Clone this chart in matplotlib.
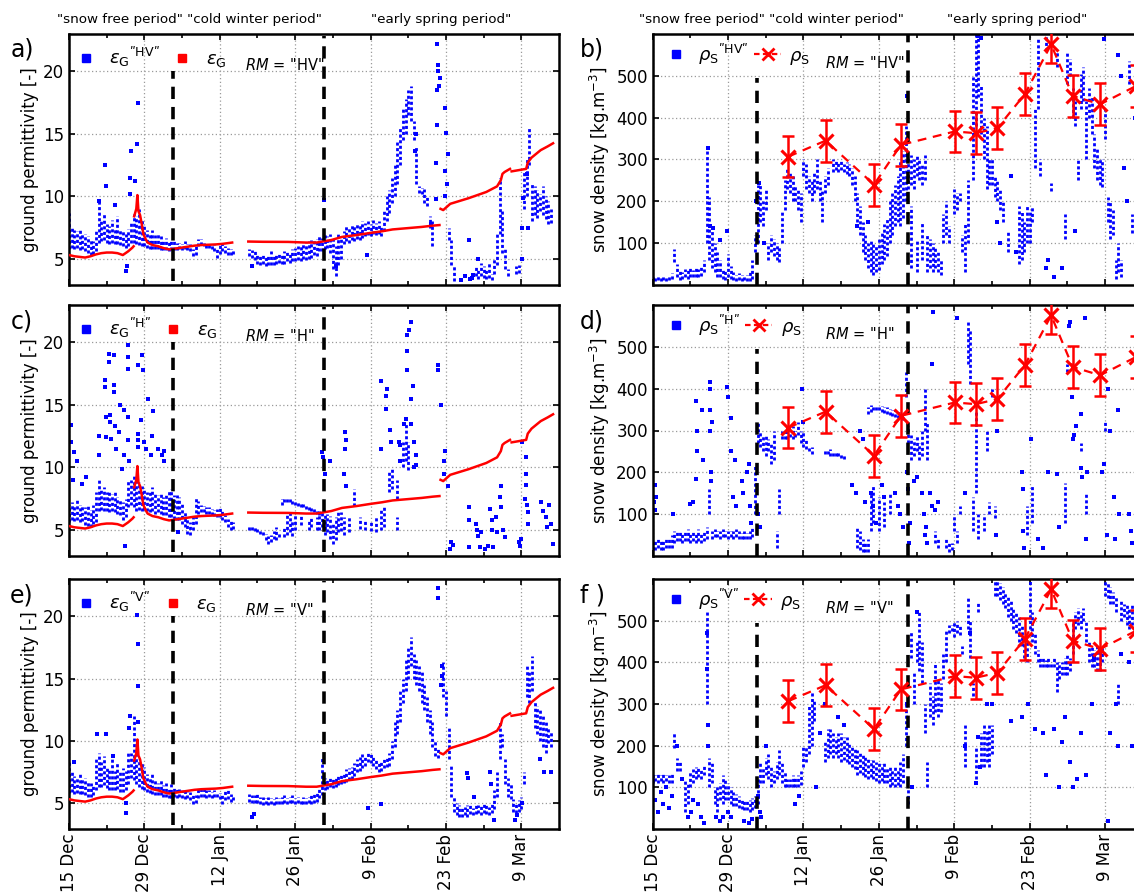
import numpy as np
import matplotlib
matplotlib.use('Agg')
import matplotlib.pyplot as plt
from matplotlib.lines import Line2D

plt.rcParams['font.family'] = ['DejaVu Sans']
plt.rcParams['mathtext.fontset'] = 'dejavusans'

# ---------------- axis categories ----------------
tick_days = [0, 14, 28, 42, 56, 70, 84]
tick_labels = ['15 Dec', '29 Dec', '12 Jan', '26 Jan', '9 Feb', '23 Feb', '9 Mar']
minor_days = [7, 21, 35, 49, 63, 77]
period_days = [19.3, 47.4]
period_titles = ['"snow free period" "cold winter period"', '"early spring period"']

# ---------------- modelled ground permittivity (red, same in a, c, e) ----------------
nan = np.nan
eg_day = [0, 1, 2, 3, 4, 5, 6, 7, 8, 9, 10, 11, 11.8, 12.0, nan, 12.1, 12.3, 12.5, 12.7, 12.9,
          13.2, 13.5, 13.8, 14.2, 14.6, 15.5, 16.6, 17.6, 18.6, 19.5, 21.0, 23.3, 24.6, 27.3, 28.6,
          30.3, nan, 33.3, 36.0, 40.7, 44.0, 46.0, 48.7, 50.7, 53.4, 56.1, 58.1, 60.1, 62.8, 65.5,
          67.5, 68.8, nan, 69.0, 69.5, 70.8, 74.2, 77.5, 79.5, 80.2, 80.5, 80.9, 81.9, nan, 82.2,
          84.9, 85.2, 85.9, 87.6, 88.9, 89.9]
eg_val = [5.3, 5.2, 5.15, 5.1, 5.2, 5.35, 5.45, 5.5, 5.5, 5.45, 5.3, 5.6, 5.9, 6.0, nan, 8.4, 8.7,
          9.0, 10.1, 8.8, 8.5, 7.8, 7.0, 6.6, 6.3, 6.1, 6.0, 5.85, 5.75, 5.8, 5.9, 6.05, 6.1, 6.15,
          6.2, 6.3, nan, 6.38, 6.36, 6.35, 6.3, 6.3, 6.5, 6.75, 6.9, 7.08, 7.2, 7.35, 7.45, 7.55,
          7.65, 7.7, nan, 9.0, 8.9, 9.4, 9.85, 10.35, 10.8, 11.3, 11.8, 11.95, 12.2, nan, 12.0,
          12.2, 12.7, 13.1, 13.7, 14.0, 14.25]

# ---------------- measured snow density (red crosses, same in b, d, f) ----------------
rho_day = [25.2, 32.1, 41.1, 46.1, 56.1, 60.0, 64.0, 69.1, 74.0, 78.0, 83.1, 89.8]
rho_val = [307, 345, 240, 335, 367, 363, 375, 456, 575, 452, 432, 476]
rho_err = [50, 50, 50, 50, 50, 50, 50, 50, 45, 50, 50, 50]

# ---------------- blue retrievals: streaks (day, low, high) and isolated points (day, value) ----
a_band = [(0.0, 5.8, 8.7), (0.5, 5.9, 7.6), (1.0, 5.8, 7.3), (1.5, 5.9, 7.2), (2.0, 5.7, 7.3),
          (2.5, 5.8, 7.0), (3.0, 5.6, 7.0), (3.5, 5.5, 6.8), (4.0, 5.3, 6.5), (4.5, 5.4, 6.4),
          (5.0, 5.6, 7.2), (5.5, 6.3, 9.6), (6.0, 6.4, 8.2), (6.5, 6.5, 8.6), (7.0, 6.3, 7.8),
          (7.5, 6.2, 7.6), (8.0, 6.3, 8.1), (8.5, 6.2, 7.5), (9.0, 6.2, 8.4), (9.5, 6.1, 7.4),
          (10.0, 6.0, 7.2), (10.5, 5.9, 7.0), (11.0, 6.0, 7.4), (11.5, 6.3, 8.0), (12.0, 6.3, 8.6),
          (12.5, 6.2, 8.4), (13.0, 6.1, 9.0), (13.5, 6.0, 8.2), (14.0, 6.0, 7.8), (14.5, 5.9, 7.3),
          (15.0, 5.8, 7.0), (15.5, 5.8, 7.3), (16.0, 5.8, 6.9), (16.5, 5.8, 7.1), (17.0, 5.7, 6.8),
          (17.5, 5.7, 6.6), (18.0, 5.7, 6.7), (18.5, 5.6, 6.5), (19.0, 5.7, 6.4), (19.5, 5.7, 6.4),
          (20.0, 5.7, 6.3), (20.5, 5.8, 6.3), (21.0, 5.7, 6.2), (21.5, 5.8, 6.4), (22.0, 5.7, 6.2),
          (22.5, 5.6, 6.2), (23.0, 5.2, 5.8), (23.5, 5.3, 6.1), (24.0, 6.0, 6.6), (24.5, 6.1, 6.6),
          (25.0, 6.0, 6.4), (25.5, 5.9, 6.3), (26.0, 5.9, 6.3), (26.5, 5.8, 6.2), (27.0, 5.6, 6.1),
          (27.5, 5.1, 5.8), (28.0, 5.4, 6.1), (28.5, 5.6, 6.2), (29.0, 5.5, 6.0), (29.5, 5.3, 5.9),
          (30.0, 5.3, 5.8), (30.5, 5.4, 5.7),
          (33.5, 5.2, 5.8), (34.0, 5.1, 5.7), (34.5, 4.9, 5.6), (35.0, 4.6, 5.5), (35.5, 4.5, 5.4),
          (36.0, 4.6, 5.5), (36.5, 4.4, 5.3), (37.0, 4.5, 5.4), (37.5, 4.5, 5.6), (38.0, 4.5, 5.3),
          (38.5, 4.6, 5.4), (39.0, 4.7, 5.5), (39.5, 4.6, 5.3), (40.0, 4.6, 5.6), (40.5, 4.8, 5.7),
          (41.0, 4.7, 5.5), (41.5, 4.8, 5.8), (42.0, 4.8, 5.9), (42.5, 4.9, 6.0), (43.0, 4.8, 6.1),
          (43.5, 5.0, 6.2), (44.0, 4.9, 6.3), (44.5, 5.0, 6.4), (45.0, 5.1, 6.5), (45.5, 5.3, 6.6),
          (46.0, 5.2, 6.6), (46.5, 5.6, 6.8), (47.0, 5.6, 6.7), (47.5, 5.8, 6.9), (48.0, 5.9, 6.8),
          (48.5, 5.5, 7.0), (49.0, 4.2, 6.6), (49.5, 3.6, 6.0), (50.0, 4.5, 7.1), (50.5, 5.0, 6.8),
          (51.0, 6.2, 7.2), (51.5, 6.4, 7.6), (52.0, 6.3, 7.5), (52.5, 6.5, 7.8), (53.0, 6.4, 7.6),
          (53.5, 6.6, 7.9), (54.0, 6.5, 7.7), (54.5, 6.7, 8.0), (55.0, 6.8, 7.9), (55.5, 6.9, 8.0),
          (56.0, 6.8, 7.8), (56.5, 7.0, 8.1), (57.0, 6.9, 7.9), (57.5, 7.0, 8.0), (58.0, 6.8, 7.7),
          (58.5, 7.2, 8.8), (59.0, 8.0, 10.0), (59.5, 8.7, 10.5), (60.0, 9.5, 11.5), (60.5, 10.0, 12.5),
          (61.0, 11.0, 14.5), (61.5, 12.5, 15.5), (62.0, 14.5, 17.0), (62.5, 15.0, 17.8),
          (63.0, 16.5, 18.5), (63.5, 16.0, 18.8), (64.0, 14.5, 16.0), (64.5, 11.0, 14.0),
          (65.0, 10.3, 10.8), (65.5, 10.2, 10.7), (66.0, 9.5, 10.6), (66.5, 9.2, 10.0),
          (67.0, 7.5, 8.4), (67.5, 6.0, 8.0),
          (70.5, 6.5, 7.5), (71.0, 4.5, 6.5), (71.5, 3.2, 4.5),
          (75.5, 3.6, 4.5), (76.0, 3.4, 4.2), (76.5, 3.6, 4.7), (77.0, 3.5, 4.4), (77.5, 3.4, 4.1),
          (78.0, 3.5, 4.7), (78.5, 3.3, 3.8), (79.0, 3.8, 5.0), (79.5, 4.5, 7.0), (80.0, 7.0, 11.5),
          (80.5, 5.5, 9.0), (81.0, 4.2, 5.8), (81.5, 3.6, 4.2), (83.0, 3.8, 4.4), (83.5, 3.9, 4.5),
          (84.5, 9.0, 12.0), (85.0, 10.0, 13.0), (85.5, 12.5, 15.5), (86.0, 8.0, 11.0),
          (86.5, 8.5, 10.8), (87.0, 8.3, 10.5), (87.5, 8.8, 10.2), (88.0, 8.5, 10.8),
          (88.5, 8.2, 10.0), (89.0, 7.8, 9.6), (89.5, 7.9, 9.0)]
a_pts = [(6.6, 12.5), (6.8, 10.8), (5.5, 9.6), (8.6, 9.3), (10.6, 4.0), (10.7, 4.4), (11.3, 11.5),
         (11.4, 10.2), (11.6, 13.6), (12.6, 14.2), (12.8, 17.5), (12.2, 11.2), (34.0, 4.4),
         (47.4, 9.7), (49.5, 4.4), (55.4, 5.3), (64.2, 13.6), (64.5, 15.0), (68.1, 9.8), (68.2, 12.7),
         (68.3, 15.7), (68.4, 18.5), (68.5, 20.0), (68.3, 22.2), (68.6, 20.5), (68.9, 19.5),
         (68.8, 18.8), (69.8, 17.1), (70.0, 15.1), (70.3, 13.4), (69.9, 12.0), (70.2, 11.0),
         (69.9, 10.0), (67.3, 7.8), (74.2, 6.5), (74.5, 3.4), (75.0, 3.7), (74.8, 3.5), (76.0, 5.0),
         (84.2, 5.0), (84.1, 7.5), (84.3, 9.9), (85.3, 7.5), (85.0, 11.8), (73.5, 3.6), (72.8, 3.3)]

c_band = [(0.0, 5.6, 7.0), (0.5, 5.8, 7.2), (1.0, 5.7, 6.9), (1.5, 5.8, 7.4), (2.0, 5.6, 7.0),
          (2.5, 5.7, 7.0), (3.0, 5.4, 6.8), (3.5, 5.3, 7.0), (4.0, 5.2, 6.6), (4.5, 5.5, 7.0),
          (5.0, 5.6, 8.0), (5.5, 6.5, 9.0), (6.0, 6.6, 8.2), (6.5, 6.5, 8.4), (7.0, 6.5, 8.0),
          (7.5, 6.4, 8.2), (8.0, 6.5, 7.9), (8.5, 6.4, 8.0), (9.0, 6.3, 7.6), (9.5, 6.2, 7.5),
          (10.0, 5.8, 7.2), (10.5, 6.0, 7.5), (11.0, 6.8, 9.0), (11.5, 7.0, 9.0), (12.0, 6.8, 9.5),
          (12.5, 6.5, 9.0), (13.0, 6.6, 8.8), (13.5, 6.5, 8.5), (14.0, 6.6, 8.2), (14.5, 6.5, 8.0),
          (15.0, 6.4, 8.0), (15.5, 6.5, 8.4), (16.0, 6.3, 8.0), (16.5, 6.4, 7.8), (17.0, 6.3, 8.0),
          (17.5, 6.2, 7.6), (18.0, 6.2, 7.8), (18.5, 6.0, 8.2), (19.0, 6.0, 8.3), (19.5, 5.9, 7.8),
          (20.0, 5.8, 7.8), (20.5, 5.8, 7.6), (21.0, 5.5, 7.2), (21.5, 5.2, 6.4), (22.0, 4.7, 5.9),
          (22.5, 4.6, 5.6), (23.0, 5.0, 6.2), (23.5, 5.5, 7.6), (24.0, 6.3, 7.3), (24.5, 6.4, 7.0),
          (25.0, 6.4, 6.9), (25.5, 6.3, 6.8), (26.0, 6.3, 6.8), (26.5, 6.2, 6.7), (27.0, 6.1, 6.6),
          (27.5, 6.0, 6.7), (28.0, 6.0, 6.8), (28.5, 5.8, 6.5), (29.0, 5.6, 6.2), (29.5, 5.2, 5.9),
          (30.0, 5.0, 5.8), (30.5, 5.1, 5.6),
          (33.5, 5.0, 5.4), (34.0, 5.0, 5.3), (34.5, 4.9, 5.3), (35.0, 4.8, 5.1), (35.5, 4.7, 5.0),
          (36.0, 4.6, 4.9), (36.5, 4.2, 4.7), (37.0, 3.9, 4.5), (37.5, 4.0, 4.6), (38.0, 4.3, 4.9),
          (38.5, 4.2, 5.2), (39.0, 4.4, 4.8),
          (39.5, 7.0, 7.5), (40.0, 7.2, 7.6), (40.5, 7.2, 7.6), (41.0, 7.2, 7.5), (41.5, 7.1, 7.5),
          (42.0, 7.0, 7.4), (42.5, 6.9, 7.3), (43.0, 6.8, 7.2), (43.5, 6.8, 7.1), (44.0, 6.7, 7.0),
          (44.5, 6.6, 6.9), (45.0, 6.5, 6.8), (45.5, 6.4, 6.8), (46.0, 6.3, 6.7), (46.5, 6.2, 6.6),
          (40.0, 4.4, 5.2), (40.5, 4.6, 6.2), (41.0, 4.8, 6.5), (41.5, 4.5, 5.8), (42.0, 5.0, 6.2),
          (43.0, 5.4, 6.3), (44.5, 5.0, 5.9), (45.0, 5.2, 6.0), (46.0, 5.0, 6.0),
          (46.5, 5.0, 6.5), (47.0, 5.2, 6.4), (47.5, 4.6, 6.2), (48.0, 4.8, 6.3), (48.5, 4.3, 6.1),
          (49.0, 3.9, 5.6), (49.5, 4.2, 6.0), (50.0, 4.8, 6.5), (50.5, 4.9, 6.4), (51.0, 4.6, 6.0),
          (52.0, 4.8, 6.0), (53.0, 6.9, 8.3), (54.0, 5.1, 6.0), (55.0, 5.0, 5.9), (56.0, 4.9, 5.8),
          (57.0, 4.8, 6.0), (58.0, 5.0, 6.6), (58.5, 5.2, 6.8), (59.5, 8.0, 9.8), (60.0, 8.3, 10.0),
          (61.0, 7.5, 9.0), (61.0, 5.0, 6.0), (62.0, 10.0, 12.0), (62.5, 10.5, 13.5),
          (63.0, 9.8, 12.0)]
c_pts = [(0.3, 13.4), (0.3, 12.0), (1.5, 10.5), (1.0, 11.2), (0.8, 9.0), (2.5, 8.7), (3.2, 9.2),
         (5.5, 12.5), (5.6, 11.0), (6.6, 16.4), (6.6, 17.0), (6.8, 14.0), (6.9, 12.4), (7.5, 19.1),
         (7.5, 18.4), (7.6, 14.2), (7.6, 13.6), (7.8, 12.3), (8.3, 19.0), (8.4, 16.6), (8.4, 16.0),
         (8.5, 13.3), (8.7, 11.5), (9.5, 15.0), (9.2, 12.8), (9.9, 9.9), (10.4, 3.7), (10.2, 14.6),
         (10.3, 11.0), (11.0, 19.8), (11.0, 18.8), (10.9, 17.9), (11.0, 14.0), (11.0, 12.2),
         (11.1, 10.5), (12.9, 18.2), (12.9, 12.7), (12.9, 12.2), (12.8, 11.6), (13.6, 19.0),
         (13.7, 17.8), (13.4, 13.8), (14.0, 12.0), (14.3, 11.5), (14.6, 15.5), (15.6, 14.5),
         (15.4, 12.5), (15.2, 11.0), (16.6, 11.5), (17.2, 11.0), (17.6, 10.5), (17.6, 11.3),
         (20.3, 4.8), (47.2, 10.8), (47.0, 11.2), (47.5, 9.5), (48.4, 10.5), (51.3, 12.8),
         (51.4, 12.2), (51.2, 11.5), (51.0, 9.5), (51.5, 8.5), (57.9, 11.5), (58.0, 16.9),
         (59.0, 16.3), (58.9, 15.7), (58.9, 14.7), (59.8, 12.0), (59.6, 13.0), (61.2, 12.0),
         (61.4, 10.5), (61.4, 11.8), (62.8, 20.6), (63.1, 21.0), (62.8, 19.3), (62.8, 17.8),
         (62.2, 13.5), (62.5, 13.9), (63.5, 21.6), (63.8, 16.5), (63.5, 15.5), (63.6, 13.5),
         (64.0, 12.0), (64.1, 10.0), (64.5, 11.0), (64.5, 10.2), (68.5, 18.2), (68.6, 17.8),
         (69.0, 15.0), (69.7, 10.5), (69.8, 11.3), (69.6, 9.5), (70.3, 8.5), (70.8, 3.5),
         (71.0, 4.0), (71.3, 3.8), (74.2, 6.8), (74.3, 5.8), (74.2, 3.6), (75.5, 5.5), (75.8, 5.0),
         (76.0, 4.5), (76.5, 4.8), (76.3, 3.6), (77.2, 3.5), (77.8, 3.7), (78.2, 6.7), (78.5, 5.8),
         (78.5, 5.0), (78.8, 3.6), (79.5, 4.8), (79.3, 6.0), (80.2, 8.5), (80.1, 7.6), (80.3, 6.8),
         (80.6, 5.0), (81.0, 4.4), (83.5, 4.0), (83.8, 3.7), (84.0, 4.3), (84.9, 10.8), (84.2, 12.0),
         (84.9, 9.5), (84.9, 8.6), (84.6, 7.5), (85.0, 7.0), (85.2, 6.4), (85.3, 5.5), (87.7, 7.2),
         (88.0, 6.5), (88.5, 6.0), (88.7, 5.2), (89.2, 7.0), (89.5, 5.5), (89.8, 3.9)]

e_band = [(0.0, 5.8, 8.3), (0.5, 5.9, 7.5), (1.0, 5.7, 7.2), (1.5, 5.8, 7.0), (2.0, 5.7, 7.3),
          (2.5, 5.7, 6.9), (3.0, 5.6, 7.0), (3.5, 5.5, 6.7), (4.0, 5.5, 6.6), (4.5, 5.6, 6.5),
          (5.0, 6.0, 8.5), (5.5, 6.3, 9.0), (6.0, 6.3, 8.3), (6.5, 6.4, 8.8), (7.0, 6.2, 8.0),
          (7.5, 6.0, 7.8), (8.0, 6.0, 8.8), (8.5, 6.0, 7.6), (9.0, 6.1, 8.3), (9.5, 5.9, 7.5),
          (10.0, 5.9, 7.8), (10.5, 6.0, 7.6), (11.0, 6.5, 9.0), (11.5, 7.0, 9.0), (12.0, 6.8, 12.0),
          (12.5, 6.5, 9.0), (13.0, 6.3, 8.5), (13.5, 6.1, 8.2), (14.0, 6.0, 7.9), (14.5, 5.9, 7.3),
          (15.0, 5.8, 7.0), (15.5, 5.7, 7.3), (16.0, 5.6, 6.8), (16.5, 5.6, 6.6), (17.0, 5.6, 6.9),
          (17.5, 5.5, 6.4), (18.0, 5.5, 6.6), (18.5, 5.4, 6.3), (19.0, 5.4, 6.5), (19.5, 5.5, 6.2),
          (20.0, 5.4, 6.3), (20.5, 5.5, 6.1), (21.0, 5.4, 6.0), (21.5, 5.3, 6.0), (22.0, 5.4, 5.9),
          (22.5, 5.2, 5.9), (23.0, 4.9, 5.6), (23.5, 5.0, 5.6), (24.0, 5.4, 6.1), (24.5, 5.5, 6.2),
          (25.0, 5.5, 6.1), (25.5, 5.4, 6.0), (26.0, 5.5, 6.0), (26.5, 5.4, 5.9), (27.0, 5.5, 6.0),
          (27.5, 5.5, 5.9), (28.0, 5.3, 5.8), (28.5, 4.9, 5.6), (29.0, 5.2, 6.0), (29.5, 5.3, 6.1),
          (30.0, 5.1, 5.7), (30.5, 5.2, 5.6),
          (33.5, 5.1, 5.7), (34.0, 5.0, 5.6), (34.5, 5.0, 5.6), (35.0, 5.0, 5.7), (35.5, 4.9, 5.5),
          (36.0, 4.8, 5.5), (36.5, 4.9, 5.4), (37.0, 4.8, 5.5), (37.5, 4.9, 5.4), (38.0, 4.8, 5.3),
          (38.5, 4.9, 5.5), (39.0, 4.9, 5.4), (39.5, 4.9, 5.5), (40.0, 5.0, 5.6), (40.5, 4.9, 5.4),
          (41.0, 5.0, 5.5), (41.5, 5.0, 5.6), (42.0, 4.9, 5.4), (42.5, 5.0, 5.5), (43.0, 4.9, 5.3),
          (43.5, 4.9, 5.5), (44.0, 4.9, 5.4), (44.5, 5.0, 5.5), (45.0, 4.9, 5.6), (45.5, 5.0, 5.7),
          (46.0, 5.1, 5.8), (46.5, 5.4, 6.3), (47.0, 5.6, 8.6), (47.5, 6.0, 7.0), (48.0, 6.1, 6.9),
          (48.5, 6.3, 7.0), (49.0, 6.2, 7.1), (49.5, 6.3, 7.2), (50.0, 6.4, 7.3), (50.5, 6.5, 7.4),
          (51.0, 6.6, 7.5), (51.5, 6.7, 7.7), (52.0, 6.8, 7.8), (52.5, 6.9, 7.9), (53.0, 7.2, 8.2),
          (53.5, 7.5, 8.5), (54.0, 7.6, 8.7), (54.5, 7.8, 8.9), (55.0, 8.0, 8.8), (55.5, 8.3, 9.0),
          (56.0, 8.2, 8.9), (56.5, 8.0, 8.8), (57.0, 7.7, 8.5), (57.5, 7.5, 8.3), (58.0, 7.6, 8.4),
          (58.5, 7.8, 8.6), (59.0, 7.9, 8.8), (59.5, 8.0, 9.0), (60.0, 8.5, 10.0), (60.5, 9.5, 11.5),
          (61.0, 10.5, 12.5), (61.5, 11.5, 14.0), (62.0, 13.0, 15.0), (62.5, 14.0, 16.5),
          (63.0, 15.0, 17.5), (63.5, 16.0, 18.3), (64.0, 15.0, 17.0), (64.5, 14.5, 16.5),
          (65.0, 14.0, 16.0), (65.5, 13.0, 15.5), (66.0, 12.5, 14.5), (66.5, 11.5, 13.5),
          (67.0, 10.5, 12.5), (67.5, 9.5, 11.5), (68.0, 8.8, 10.0), (68.5, 8.6, 9.5),
          (69.5, 13.5, 16.3), (70.0, 12.0, 14.0), (70.5, 8.5, 11.0), (71.0, 5.5, 8.0),
          (71.5, 4.3, 5.5), (72.0, 4.0, 5.0), (72.5, 3.9, 4.8), (73.0, 3.9, 4.6), (73.5, 4.0, 4.7),
          (74.0, 3.9, 4.8), (74.5, 4.1, 4.9), (75.0, 4.0, 4.6), (75.5, 4.1, 4.9), (76.0, 4.2, 4.8),
          (76.5, 4.0, 4.9), (77.0, 4.2, 5.0), (77.5, 4.1, 4.8), (78.0, 4.0, 4.7), (78.5, 4.2, 5.0),
          (79.0, 4.5, 6.0), (79.5, 5.5, 7.5), (80.0, 8.5, 11.5), (80.5, 9.5, 10.5), (81.0, 6.5, 8.5),
          (81.5, 5.5, 7.0), (82.0, 5.3, 6.5), (82.5, 4.3, 5.3), (83.0, 4.2, 5.0), (83.5, 4.3, 5.2),
          (84.0, 4.5, 5.5), (84.5, 6.5, 7.5), (85.0, 13.5, 16.0), (85.5, 13.0, 15.5),
          (86.0, 14.0, 16.8), (86.5, 11.0, 13.2), (87.0, 10.5, 12.8), (87.5, 10.0, 12.5),
          (88.0, 9.5, 12.0), (88.5, 9.0, 11.5), (89.0, 9.8, 11.0), (89.5, 9.5, 10.8)]
e_pts = [(1.0, 8.3), (5.2, 10.5), (6.8, 10.5), (8.2, 8.8), (10.5, 4.2), (10.6, 5.0), (11.3, 12.0),
         (11.2, 11.0), (12.9, 17.8), (12.9, 14.4), (12.9, 11.5), (12.6, 20.1), (34.0, 3.9),
         (34.3, 4.1), (55.5, 4.6), (57.9, 4.9), (68.5, 22.3), (68.6, 21.5), (69.2, 16.0),
         (69.3, 15.2), (69.0, 14.5), (74.0, 7.4), (74.1, 7.0), (75.3, 5.5), (78.2, 7.5), (78.3, 6.5),
         (79.0, 3.6), (82.8, 3.6), (83.2, 4.0), (84.2, 5.0), (87.5, 8.5), (88.3, 7.5), (89.5, 7.5)]

b_band = [(0.0, 12, 24), (0.5, 10, 22), (1.0, 12, 25), (1.5, 10, 20), (2.0, 12, 24), (2.5, 10, 22),
          (3.0, 12, 25), (3.5, 14, 28), (4.0, 55, 85), (4.5, 20, 50), (5.0, 12, 35), (5.5, 15, 30),
          (6.0, 18, 38), (6.5, 15, 35), (7.0, 20, 40), (7.5, 18, 35), (8.0, 20, 42), (8.5, 18, 38),
          (9.0, 22, 45), (9.5, 30, 60), (10.0, 100, 330), (10.5, 60, 210), (11.0, 40, 140),
          (11.5, 30, 100), (12.0, 20, 80), (12.5, 20, 60), (13.0, 15, 40), (13.5, 12, 35),
          (14.0, 20, 75), (14.5, 15, 45), (15.0, 12, 30), (15.5, 10, 25), (16.0, 12, 28),
          (16.5, 10, 25), (17.0, 12, 22), (17.5, 10, 25), (18.0, 10, 35), (18.5, 15, 60),
          (19.0, 80, 120), (19.5, 100, 240), (20.0, 150, 240), (20.5, 140, 200), (21.0, 180, 230),
          (21.5, 60, 100), (22.0, 80, 120), (22.5, 70, 110), (23.0, 60, 100), (23.5, 55, 90),
          (24.0, 100, 180), (24.5, 180, 250), (25.0, 230, 280), (25.5, 220, 270), (26.0, 200, 260),
          (26.5, 200, 240), (27.0, 180, 230), (27.5, 150, 220), (28.0, 260, 300), (28.5, 230, 290),
          (29.0, 220, 260), (29.5, 200, 250), (30.0, 220, 270), (30.5, 230, 300), (31.0, 200, 250),
          (31.5, 150, 230), (32.0, 220, 260), (32.5, 240, 280), (33.5, 270, 300), (34.0, 275, 300),
          (34.5, 270, 295), (35.0, 275, 300), (35.5, 270, 290), (36.0, 265, 295), (36.5, 260, 290),
          (37.0, 240, 280), (37.5, 200, 260), (38.0, 150, 220), (38.5, 120, 190), (39.0, 80, 150),
          (39.5, 60, 120), (40.0, 40, 100), (40.5, 30, 110), (41.0, 25, 100), (41.5, 30, 95),
          (42.0, 35, 110), (42.5, 50, 130), (43.0, 60, 145), (43.5, 70, 160), (44.0, 100, 200),
          (44.5, 120, 220), (45.0, 140, 240), (45.5, 150, 260), (46.0, 140, 300), (46.5, 160, 320),
          (47.0, 200, 380), (47.5, 230, 300), (48.0, 240, 310), (48.5, 230, 300), (49.0, 260, 310),
          (49.5, 250, 300), (50.0, 240, 290), (50.5, 250, 310),
          (48.0, 40, 190), (49.0, 30, 110), (50.0, 60, 150), (51.0, 30, 120), (51.5, 40, 110),
          (52.0, 30, 100), (52.5, 40, 90), (53.0, 30, 80), (53.5, 25, 60), (54.0, 100, 170),
          (54.5, 120, 200), (55.0, 100, 140), (56.0, 170, 230), (56.5, 180, 220), (57.0, 200, 220),
          (57.5, 80, 120), (58.0, 30, 150), (58.5, 100, 250), (59.5, 250, 500), (60.0, 380, 600),
          (60.5, 450, 600), (61.0, 360, 480), (61.5, 300, 400), (62.0, 230, 380), (62.5, 240, 300),
          (63.0, 240, 300), (63.5, 210, 260), (64.0, 200, 250), (64.5, 180, 230), (65.0, 150, 200),
          (66.0, 80, 130), (68.0, 50, 190), (68.5, 60, 180), (69.0, 80, 150), (69.5, 100, 190),
          (70.0, 100, 180), (70.5, 150, 190), (71.0, 280, 420), (71.5, 420, 590), (72.0, 260, 300),
          (73.0, 560, 600), (74.0, 225, 245), (75.0, 520, 560), (76.5, 110, 170), (77.0, 480, 560),
          (77.5, 500, 540), (78.0, 400, 470), (78.5, 380, 440), (79.0, 250, 300), (79.5, 420, 505),
          (80.0, 440, 520), (80.5, 300, 440), (81.0, 400, 470), (81.5, 360, 450), (82.0, 280, 360),
          (82.5, 250, 330), (83.0, 240, 300), (83.5, 235, 300), (84.0, 350, 420), (84.5, 150, 210),
          (85.0, 110, 200), (85.5, 120, 180), (86.0, 15, 60), (86.5, 30, 100), (87.0, 20, 60),
          (88.5, 480, 535), (89.0, 125, 170)]
b_pts = [(10.2, 327), (10.6, 140), (11.2, 136), (12.5, 108), (13.8, 130), (19.2, 200), (19.8, 243),
         (20.6, 100), (38.0, 140), (40.0, 150), (47.2, 452), (60.5, 595), (61.0, 590), (64.0, 150),
         (64.5, 100), (66.5, 260), (67.5, 80), (73.0, 40), (73.5, 60), (74.5, 20), (76.0, 40),
         (78.5, 130), (83.8, 588), (86.5, 550), (87.0, 500), (87.5, 280), (88.0, 200), (89.5, 400)]

d_band = [(0.0, 15, 40), (0.5, 15, 35), (1.0, 18, 40), (1.5, 15, 38), (2.0, 15, 35), (2.5, 18, 40),
          (3.0, 20, 45), (3.5, 20, 50), (4.0, 30, 60), (4.5, 35, 60), (5.0, 35, 60), (5.5, 30, 55),
          (6.0, 35, 60), (6.5, 35, 65), (7.0, 30, 55), (7.5, 35, 60), (8.0, 30, 55), (8.5, 35, 65),
          (9.0, 30, 55), (9.5, 35, 60), (10.0, 40, 70), (10.5, 100, 160), (11.0, 40, 60),
          (11.5, 45, 65), (12.0, 45, 60), (12.5, 40, 60), (13.0, 45, 65), (13.5, 45, 60),
          (14.0, 40, 60), (14.5, 45, 60), (15.0, 40, 60), (15.5, 45, 65), (16.0, 40, 60),
          (16.5, 40, 55), (17.0, 40, 60), (17.5, 40, 55), (18.0, 40, 60), (18.5, 45, 70),
          (19.0, 100, 220), (19.5, 270, 320), (20.0, 260, 300), (20.5, 250, 290), (21.0, 240, 290),
          (21.5, 250, 280), (22.0, 220, 270), (22.5, 230, 300), (23.0, 20, 60), (23.5, 100, 160),
          (24.0, 280, 300), (24.5, 280, 300), (25.0, 280, 300), (25.5, 285, 300), (26.0, 280, 310),
          (26.5, 285, 300), (27.0, 290, 320), (27.5, 270, 300), (28.0, 260, 300), (28.5, 255, 280),
          (29.0, 250, 260), (29.5, 245, 260), (32.0, 245, 255), (32.5, 245, 255), (33.0, 240, 255),
          (33.5, 240, 252), (34.0, 240, 250), (34.5, 238, 250), (35.0, 235, 245), (35.5, 232, 242),
          (38.0, 20, 70), (38.5, 15, 60), (39.0, 10, 40), (39.5, 10, 30), (40.0, 340, 355),
          (40.5, 345, 360), (41.0, 348, 360), (41.5, 350, 360), (42.0, 348, 358), (42.5, 345, 358),
          (43.0, 342, 356), (43.5, 340, 355), (44.0, 338, 352), (44.5, 335, 350), (45.0, 332, 348),
          (45.5, 330, 345), (46.0, 330, 345), (46.5, 325, 340), (47.0, 380, 440), (47.5, 270, 310),
          (48.0, 230, 290), (48.5, 240, 280), (49.0, 250, 290), (49.5, 230, 270), (50.0, 240, 300),
          (50.5, 300, 400), (51.0, 230, 320), (40.0, 10, 40), (40.5, 60, 150), (41.0, 80, 170),
          (42.0, 60, 140), (43.0, 70, 130), (44.0, 100, 150), (52.5, 30, 60), (53.0, 20, 40),
          (54.5, 20, 40), (55.0, 10, 35), (55.5, 15, 30), (56.0, 60, 100), (56.5, 30, 60),
          (57.0, 100, 120), (58.5, 460, 560), (59.0, 410, 540), (59.5, 60, 140), (60.0, 150, 350),
          (60.5, 40, 100), (61.5, 60, 100), (62.0, 250, 300), (62.5, 100, 130), (63.0, 380, 400),
          (63.5, 90, 120), (69.5, 50, 120), (70.5, 80, 170), (76.5, 78, 174), (77.0, 440, 460),
          (79.5, 250, 270), (80.5, 100, 150), (84.0, 300, 320)]
d_pts = [(0.3, 130), (0.5, 110), (0.4, 170), (0.7, 140), (3.7, 100), (7.0, 125), (7.5, 130),
         (8.0, 185), (8.2, 250), (8.3, 300), (8.1, 370), (9.1, 350), (9.4, 230), (10.6, 416),
         (10.7, 400), (10.6, 350), (10.7, 300), (10.8, 200), (10.9, 180), (11.0, 320), (13.8, 404),
         (14.0, 380), (14.5, 330), (14.6, 250), (15.2, 230), (15.0, 140), (15.5, 120), (16.5, 180),
         (16.8, 150), (17.5, 200), (17.8, 220), (18.0, 120), (18.3, 80), (19.5, 100), (20.0, 70),
         (27.8, 400), (28.0, 320), (37.0, 170), (37.8, 150), (38.5, 300), (39.0, 280), (39.5, 130),
         (40.5, 150), (41.0, 120), (41.5, 80), (42.5, 170), (43.0, 140), (45.0, 150), (45.5, 120),
         (46.0, 100), (46.5, 70), (47.2, 200), (47.5, 160), (47.8, 80), (47.6, 30), (48.5, 180),
         (49.0, 190), (50.0, 150), (50.3, 100), (50.8, 70), (51.5, 150), (51.8, 120), (50.5, 50),
         (51.0, 30), (52.0, 583), (51.9, 460), (52.5, 110), (53.0, 130), (56.5, 570), (58.0, 150),
         (63.8, 50), (64.0, 300), (68.5, 200), (68.7, 160), (68.8, 60), (69.0, 20), (70.3, 280),
         (71.5, 40), (72.5, 20), (73.5, 200), (75.0, 195), (75.5, 70), (77.3, 550), (77.5, 560),
         (77.8, 380), (78.0, 280), (78.2, 290), (78.6, 310), (79.5, 340), (79.6, 210), (79.8, 190),
         (80.2, 570), (80.5, 40), (80.6, 200), (83.4, 200), (83.8, 220), (84.5, 400), (85.0, 300),
         (84.3, 50), (85.6, 140), (85.8, 40), (86.5, 350), (86.6, 100), (88.5, 100), (88.8, 60),
         (89.0, 30)]

f_band = [(0.0, 110, 135), (0.5, 115, 130), (1.0, 110, 135), (1.5, 115, 130), (2.0, 110, 135),
          (2.5, 115, 130), (3.0, 110, 130), (3.5, 110, 135), (4.0, 195, 230), (4.5, 140, 170),
          (5.0, 140, 165), (6.0, 40, 120), (6.5, 60, 110), (7.0, 100, 140), (7.5, 110, 145),
          (8.0, 120, 150), (8.5, 125, 150), (9.0, 120, 145), (9.5, 130, 155), (10.0, 300, 520),
          (10.5, 100, 170), (11.0, 110, 160), (11.5, 60, 100), (12.0, 40, 100), (12.5, 70, 110),
          (13.0, 60, 130), (13.5, 70, 120), (14.0, 70, 110), (14.5, 60, 100), (15.0, 55, 90),
          (15.5, 55, 85), (16.0, 50, 80), (16.5, 48, 75), (17.0, 45, 70), (17.5, 45, 72),
          (18.0, 40, 70), (18.5, 45, 75), (19.0, 50, 80), (19.5, 60, 120), (20.0, 110, 160),
          (20.5, 110, 150), (21.0, 130, 170), (21.5, 120, 180), (22.0, 100, 150), (22.5, 110, 140),
          (23.0, 120, 160), (23.5, 130, 190), (24.0, 110, 160), (24.5, 100, 140), (25.0, 100, 120),
          (25.5, 100, 120), (26.0, 100, 130), (26.5, 100, 125), (27.0, 100, 130), (27.5, 105, 140),
          (28.0, 150, 200), (28.5, 160, 200), (29.0, 180, 300), (29.5, 200, 330), (30.0, 260, 310),
          (32.0, 160, 210), (32.5, 170, 240), (33.0, 180, 240), (33.5, 170, 230), (34.0, 180, 220),
          (34.5, 170, 230), (35.0, 160, 230), (35.5, 165, 220), (36.0, 160, 220), (36.5, 155, 210),
          (37.0, 150, 200), (37.5, 145, 195), (38.0, 130, 190), (38.5, 135, 185), (39.0, 130, 180),
          (39.5, 125, 175), (40.0, 120, 170), (40.5, 125, 165), (41.0, 120, 165), (41.5, 115, 160),
          (42.0, 110, 160), (42.5, 115, 155), (43.0, 110, 160), (43.5, 110, 150), (44.0, 100, 150),
          (44.5, 105, 145), (45.0, 100, 150), (45.5, 105, 145), (46.0, 100, 160), (46.5, 110, 180),
          (47.0, 200, 300), (47.5, 60, 100), (48.0, 410, 475), (48.5, 300, 380), (49.0, 400, 450),
          (49.5, 380, 520), (50.0, 350, 450), (50.5, 230, 300), (51.0, 100, 160), (51.5, 270, 350),
          (52.0, 250, 320), (52.5, 280, 400), (53.0, 270, 360), (53.5, 280, 350), (54.0, 360, 420),
          (54.5, 400, 480), (55.0, 470, 490), (55.5, 475, 490), (56.0, 460, 500), (56.5, 470, 500),
          (57.0, 465, 490), (57.5, 420, 440), (58.0, 150, 250), (58.5, 480, 560), (59.0, 410, 500),
          (59.5, 320, 350), (60.0, 120, 200), (60.5, 520, 545), (61.0, 150, 230), (61.5, 150, 250),
          (62.0, 160, 240), (62.5, 150, 250), (63.0, 180, 250), (63.5, 560, 600), (64.0, 560, 600),
          (64.5, 550, 590), (65.0, 540, 580), (65.5, 530, 570), (66.0, 510, 560), (66.5, 500, 550),
          (67.0, 480, 530), (67.5, 470, 520), (68.0, 450, 510), (68.5, 440, 490), (69.0, 410, 460),
          (69.5, 400, 450), (70.0, 480, 600), (70.5, 450, 520), (71.0, 420, 470), (71.5, 400, 430),
          (72.0, 390, 415), (72.5, 390, 410), (73.0, 388, 405), (73.5, 390, 410), (74.0, 388, 402),
          (74.5, 390, 410), (75.0, 330, 400), (75.5, 360, 400), (76.0, 370, 400), (76.5, 370, 410),
          (77.0, 370, 420), (77.5, 380, 410), (78.0, 420, 500), (78.5, 480, 520), (79.0, 490, 530),
          (79.5, 480, 520), (80.0, 500, 530), (80.5, 450, 500), (81.0, 400, 450), (81.5, 390, 440),
          (82.0, 390, 430), (82.5, 380, 440), (83.0, 380, 430), (83.5, 400, 440), (84.0, 560, 600),
          (84.5, 555, 590), (85.0, 540, 580), (85.5, 540, 570), (86.0, 520, 560), (86.5, 300, 350),
          (87.0, 500, 550), (87.5, 510, 540), (88.0, 490, 540), (88.5, 480, 530), (89.0, 490, 540),
          (89.5, 480, 520)]
f_pts = [(0.5, 70), (1.0, 40), (1.5, 90), (2.0, 60), (2.5, 100), (3.0, 50), (3.5, 80), (4.5, 200),
         (5.5, 120), (6.5, 30), (7.2, 40), (7.5, 70), (8.5, 60), (9.0, 30), (9.5, 15), (10.0, 383),
         (10.1, 470), (10.2, 250), (10.3, 200), (11.8, 30), (12.5, 20), (13.0, 30), (14.0, 40),
         (14.5, 30), (17.0, 20), (17.8, 15), (18.5, 25), (19.5, 80), (20.0, 40), (20.2, 30),
         (21.0, 200), (26.5, 60), (27.2, 80), (30.3, 100), (31.0, 230), (32.0, 300), (34.5, 270),
         (35.5, 250), (47.3, 300), (48.2, 100), (49.0, 522), (58.0, 200), (59.0, 470), (60.0, 110),
         (60.5, 220), (60.8, 150), (62.0, 300), (63.0, 300), (66.5, 260), (68.5, 270), (69.7, 300),
         (71.0, 240), (72.5, 230), (73.0, 130), (74.5, 240), (75.5, 100), (76.5, 270), (76.0, 210),
         (77.5, 160), (78.0, 100), (78.8, 120), (79.5, 230), (80.5, 130), (81.5, 300), (82.0, 410),
         (84.5, 20), (85.0, 230), (86.0, 300), (86.5, 200), (87.0, 420), (88.5, 400), (89.0, 200)]

# ---------------- layout (pixels of a 1134 x 894 canvas) ----------------
W, H = 1134, 894
fig = plt.figure(figsize=(W / 100, H / 100), dpi=100)
BLUE = '#0000ff'
RED = '#ff0000'
Q = '\u02ba'  # straight double-quote look-alike usable inside mathtext


def add_axes(x0, top, bottom, width=490):
    return fig.add_axes([x0 / W, 1 - bottom / H, width / W, (bottom - top) / H])


def style(ax, bottom_labels):
    ax.set_xlim(0, 91)
    ax.set_xticks(tick_days)
    ax.set_xticks(minor_days, minor=True)
    if bottom_labels:
        ax.set_xticklabels(tick_labels, rotation=90, fontsize=12)
    else:
        ax.set_xticklabels([])
    ax.tick_params(which='both', direction='in', top=True, right=True, labelsize=12, width=1.2)
    ax.tick_params(which='major', length=4)
    ax.tick_params(which='minor', length=3)
    ax.grid(True, which='major', color='#9a9a9a', linestyle=(0, (1, 2)), linewidth=0.9)
    ax.set_axisbelow(True)
    for s in ax.spines.values():
        s.set_linewidth(1.8)


def draw_blue(ax, band, pts):
    b = np.array(band, dtype=float)
    ax.vlines(b[:, 0], b[:, 1], b[:, 2], colors=BLUE, linewidth=2.0,
              linestyles=(0, (1.1, 0.9)), zorder=2)
    p = np.array(pts, dtype=float)
    ax.scatter(p[:, 0], p[:, 1], s=6, marker='s', color=BLUE, linewidths=0, zorder=2)


def dashed_periods(ax, y0, y_first, y_second):
    ax.vlines([period_days[0]], y0, y_first, colors='k', linewidth=2.6,
              linestyles=(0, (3.4, 2.2)), zorder=4)
    ax.vlines([period_days[1]], y0, y_second, colors='k', linewidth=2.6,
              linestyles=(0, (3.4, 2.2)), zorder=4)


rows = [(34, 285), (305, 556), (579, 829)]
left_x, right_x = 69, 652.7
tags = ['HV', 'H', 'V']
left_data = [(a_band, a_pts), (c_band, c_pts), (e_band, e_pts)]
right_data = [(b_band, b_pts), (d_band, d_pts), (f_band, f_pts)]
left_letters = ['a)', 'c)', 'e)']
right_letters = ['b)', 'd)', 'f )']

for i, (top, bottom) in enumerate(rows):
    last = (i == 2)
    tag = tags[i]

    # ---- left: ground permittivity ----
    ax = add_axes(left_x, top, bottom)
    style(ax, last)
    ax.set_ylim(2.9, 23.0)
    ax.set_yticks([5, 10, 15, 20])
    draw_blue(ax, *left_data[i])
    ax.plot(eg_day, eg_val, color=RED, lw=1.8, zorder=3)
    dashed_periods(ax, 3.2, 20.0, 22.8)
    ax.set_ylabel('ground permittivity [-]', fontsize=12, labelpad=3)
    h = [Line2D([], [], ls='none', marker='s', color=BLUE, ms=6),
         Line2D([], [], ls='none', marker='s', color=RED, ms=6)]
    lab = [r'${\varepsilon_{\rm G}}^{\rm %s%s%s}$' % (Q, tag, Q), r'$\varepsilon_{\rm G}$']
    ax.legend(h, lab, ncol=2, loc='upper left', bbox_to_anchor=(0.02, 0.955), frameon=False,
              fontsize=13, handlelength=0.8, handletextpad=0.9, columnspacing=0.8,
              borderaxespad=0, borderpad=0)
    ax.text(0.36, 0.875, r'$RM$ = "%s"' % tag, transform=ax.transAxes, fontsize=10.5,
            ha='left', va='center')
    fig.text(22 / W, 1 - (top + 16) / H, left_letters[i], fontsize=17, ha='center', va='center')

    # ---- right: snow density ----
    ax = add_axes(right_x, top, bottom)
    style(ax, last)
    ax.set_ylim(0, 600)
    ax.set_yticks([100, 200, 300, 400, 500])
    draw_blue(ax, *right_data[i])
    ax.errorbar(rho_day, rho_val, yerr=rho_err, fmt='none', ecolor=RED, elinewidth=1.8,
                capsize=4, capthick=1.8, zorder=5)
    ax.plot(rho_day, rho_val, color=RED, ls=(0, (4, 3)), lw=1.6, marker='x', ms=10, mew=2.2,
            zorder=6)
    dashed_periods(ax, 0, 495, 600)
    ax.set_ylabel('snow density [kg.m$^{-3}$]', fontsize=12, labelpad=3)
    h = [Line2D([], [], ls='none', marker='s', color=BLUE, ms=6),
         Line2D([], [], color=RED, ls=(0, (2.5, 1.5)), lw=1.6, marker='x', ms=9, mew=2)]
    lab = [r'${\rho_{\rm S}}^{\rm %s%s%s}$' % (Q, tag, Q), r'$\rho_{\rm S}$']
    ax.legend(h, lab, ncol=2, loc='upper left', bbox_to_anchor=(0.02, 0.97), frameon=False,
              fontsize=13, handlelength=1.5, handletextpad=0.45, columnspacing=0.3,
              borderaxespad=0, borderpad=0)
    ax.text(0.352, 0.885, r'$RM$ = "%s"' % tag, transform=ax.transAxes, fontsize=10.5,
            ha='left', va='center')
    fig.text(592 / W, 1 - (top + 16) / H, right_letters[i], fontsize=17, ha='center',
             va='center')

# ---- period headers ----
fig.text(189 / W, 1 - 20 / H, period_titles[0], fontsize=9.7, ha='center', va='center')
fig.text(441 / W, 1 - 20 / H, period_titles[1], fontsize=9.7, ha='center', va='center')
fig.text(771 / W, 1 - 20 / H, period_titles[0], fontsize=9.7, ha='center', va='center')
fig.text(1017 / W, 1 - 20 / H, period_titles[1], fontsize=9.7, ha='center', va='center')

fig.savefig('out.png', dpi=100)
